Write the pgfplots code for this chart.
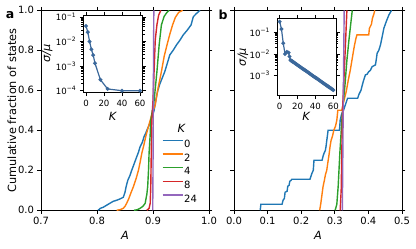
\documentclass[border=0pt]{standalone}
\usepackage{pgfplots}
\pgfplotsset{compat=1.18}
\usepackage{fontspec}
\setmainfont{DejaVu Sans}
\newcommand\mainfs{\fontsize{10}{12}\selectfont}
\newcommand\labfs{\fontsize{11.3}{13}\selectfont}
\newcommand\insfs{\fontsize{8.6}{10}\selectfont}
\definecolor{c0}{HTML}{1F77B4}
\definecolor{c1}{HTML}{FF7F0E}
\definecolor{c2}{HTML}{2CA02C}
\definecolor{c3}{HTML}{D62728}
\definecolor{c4}{HTML}{9467BD}
\definecolor{insb}{RGB}{59,104,155}
\pgfplotsset{
  mainax/.style={
    scale only axis, width=168pt, height=200pt,
    ymin=0, ymax=1,
    axis line style={line width=0.8pt},
    tick align=outside, major tick length=3.5pt,
    every tick/.style={black, line width=0.8pt},
    ytick={0,0.2,0.4,0.6,0.8,1.0},
    /pgf/number format/assume math mode=true,
    xticklabel style={font=\mainfs, /pgf/number format/.cd, fixed, fixed zerofill, precision=1},
    yticklabel style={font=\mainfs, /pgf/number format/.cd, fixed, fixed zerofill, precision=1},
    xlabel style={at={(rel axis cs:0.5,0)}, anchor=center, yshift=-25pt, font=\labfs},
    ylabel style={anchor=center, font=\labfs},
    clip=true,
  },
  insax/.style={
    scale only axis, xmin=-3, xmax=63,
    axis background/.style={fill=white},
    axis line style={line width=0.8pt},
    tick align=outside, major tick length=3.5pt, minor tick length=2pt,
    every tick/.style={black, line width=0.8pt},
    every minor tick/.style={black, line width=0.6pt},
    xtick={0,20,40,60},
    /pgf/number format/assume math mode=true,
    xticklabel style={font=\insfs},
    yticklabel style={font=\insfs},
    xlabel style={at={(rel axis cs:0.5,0)}, anchor=center, font=\labfs},
    ylabel style={anchor=center, font=\labfs},
  },
}
\begin{document}
\begin{tikzpicture}
\path[use as bounding box] (0pt,0pt) rectangle (416pt,249pt);

% ---------------- panel a ----------------
\begin{axis}[mainax, at={(41pt,38.7pt)}, anchor=south west,
  xmin=0.7, xmax=1.0, xtick={0.7,0.8,0.9,1.0},
  xlabel={\textit{A}}, ylabel={Cumulative fraction of states},
  ylabel style={at={(rel axis cs:-0.1726,0.5)}},
  legend style={at={(rel axis cs:0.718,0.355)}, anchor=north west, draw=none, fill=none,
    font=\mainfs, inner sep=0pt, row sep=4.3pt,
    nodes={inner sep=1pt, text height=7.3pt, text depth=0pt}},
  legend cell align=left,
  legend image code/.code={\draw[#1] (0pt,3.6pt) -- (20pt,3.6pt);},
]
\addplot[c0, line width=1.4pt] coordinates {
(0.802,0) (0.806,0.010) (0.811,0.015) (0.817,0.025) (0.823,0.035) (0.829,0.045)
(0.835,0.050) (0.842,0.058) (0.847,0.065) (0.850,0.090) (0.852,0.118) (0.855,0.150)
(0.859,0.175) (0.862,0.200) (0.866,0.230) (0.871,0.268) (0.874,0.290) (0.877,0.318)
(0.881,0.340) (0.884,0.368) (0.887,0.385) (0.889,0.400) (0.893,0.425) (0.896,0.450)
(0.900,0.480) (0.902,0.500) (0.905,0.550) (0.908,0.593) (0.912,0.630) (0.917,0.665)
(0.921,0.693) (0.925,0.730) (0.930,0.777) (0.936,0.800) (0.942,0.827) (0.948,0.850)
(0.954,0.877) (0.961,0.900) (0.968,0.927) (0.972,0.968) (0.978,0.985) (0.984,1.000)};
\addlegendentry{0}
\addplot[c1, line width=1.4pt] coordinates {
(0.835,0) (0.841,0.003) (0.847,0.010) (0.850,0.020) (0.853,0.035) (0.857,0.060)
(0.861,0.090) (0.865,0.118) (0.870,0.160) (0.874,0.200) (0.877,0.240) (0.880,0.285)
(0.884,0.330) (0.887,0.368) (0.891,0.410) (0.895,0.450) (0.899,0.490) (0.904,0.527)
(0.909,0.610) (0.915,0.693) (0.920,0.770) (0.925,0.827) (0.930,0.880) (0.935,0.927)
(0.940,0.965) (0.946,0.990) (0.953,1.000)};
\addlegendentry{2}
\addplot[c2, line width=1.4pt] coordinates {
(0.866,0) (0.872,0.003) (0.877,0.010) (0.882,0.020) (0.886,0.035) (0.889,0.080)
(0.8905,0.118) (0.892,0.200) (0.893,0.285) (0.895,0.380) (0.896,0.450) (0.899,0.500)
(0.902,0.550) (0.907,0.693) (0.911,0.827) (0.915,0.927) (0.920,0.970) (0.925,0.990)
(0.929,1.000)};
\addlegendentry{4}
\addplot[c3, line width=1.4pt] coordinates {
(0.889,0) (0.893,0.010) (0.895,0.035) (0.896,0.118) (0.897,0.300) (0.898,0.450)
(0.900,0.550) (0.902,0.700) (0.904,0.850) (0.907,0.927) (0.910,0.975) (0.914,1.000)};
\addlegendentry{8}
\addplot[c4, line width=1.4pt] coordinates {
(0.8995,0) (0.9000,0.200) (0.9005,0.500) (0.9010,0.800) (0.9015,1.000)};
\addlegendentry{24}
\node[font=\labfs] at (rel axis cs:0.8375,0.41) {\textit{K}};
\end{axis}

\begin{axis}[insax, ymode=log, at={(83.3pt,156.3pt)}, anchor=south west, width=59.4pt, height=77.7pt,
  ymin=8.3e-5, ymax=0.12,
  ytick={1e-4,1e-3,1e-2,1e-1},
  yticklabels={10\textsuperscript{−4},10\textsuperscript{−3},10\textsuperscript{−2},10\textsuperscript{−1}},
  xlabel={\textit{K}}, ylabel={\textit{σ/μ}},
  xlabel style={yshift=-24pt}, ylabel style={at={(rel axis cs:-0.606,0.5)}},
]
\addplot[insb, line width=1.2pt, mark=*, mark size=1.3pt] coordinates {
(0,0.043) (2,0.024) (4,0.010) (6,0.0048) (8,0.0028) (10,0.0013)
(16,0.00028) (24,0.000118) (40,0.000100) (60,0.000100)};
\end{axis}

% ---------------- panel b ----------------
\begin{axis}[mainax, at={(234pt,38.7pt)}, anchor=south west,
  xmin=0, xmax=0.5, xtick={0,0.1,0.2,0.3,0.4,0.5},
  xlabel={\textit{A}}, yticklabel=\empty,
]
\addplot[c0, line width=1.4pt] coordinates {
(0.078,0) (0.080,0.030) (0.143,0.030) (0.146,0.050) (0.150,0.060) (0.152,0.090)
(0.158,0.095) (0.160,0.120) (0.164,0.125) (0.166,0.145) (0.170,0.150) (0.172,0.155)
(0.226,0.155) (0.230,0.175) (0.232,0.185) (0.236,0.200) (0.238,0.250) (0.262,0.250)
(0.265,0.270) (0.268,0.285) (0.272,0.300) (0.274,0.320) (0.277,0.360) (0.280,0.400)
(0.314,0.400) (0.316,0.450) (0.320,0.480) (0.326,0.500) (0.332,0.530) (0.338,0.560)
(0.368,0.560) (0.372,0.580) (0.378,0.600) (0.384,0.640) (0.391,0.677) (0.396,0.680)
(0.401,0.693) (0.406,0.700) (0.411,0.718) (0.421,0.727) (0.424,0.760) (0.426,0.785)
(0.431,0.800) (0.436,0.827) (0.441,0.868) (0.446,0.910) (0.453,0.943) (0.461,0.977)
(0.469,1.000)};
\addplot[c1, line width=1.4pt] coordinates {
(0.255,0) (0.258,0.030) (0.262,0.080) (0.265,0.118) (0.269,0.150) (0.272,0.177)
(0.276,0.200) (0.279,0.235) (0.283,0.280) (0.286,0.320) (0.289,0.350) (0.293,0.370)
(0.297,0.400) (0.302,0.420) (0.306,0.450) (0.309,0.500) (0.321,0.500) (0.326,0.540)
(0.334,0.593) (0.340,0.650) (0.346,0.700) (0.352,0.760) (0.358,0.820) (0.363,0.860)
(0.366,0.877) (0.401,0.877) (0.403,0.910) (0.409,0.930) (0.412,0.960) (0.416,0.980)
(0.419,1.000)};
\addplot[c2, line width=1.4pt] coordinates {
(0.301,0) (0.306,0.030) (0.310,0.118) (0.315,0.285) (0.321,0.450) (0.324,0.520)
(0.330,0.620) (0.336,0.750) (0.342,0.850) (0.348,0.940) (0.352,1.000)};
\addplot[c3, line width=1.4pt] coordinates {
(0.316,0) (0.319,0.100) (0.321,0.300) (0.323,0.500) (0.327,0.650) (0.331,0.800)
(0.334,0.920) (0.336,1.000)};
\addplot[c4, line width=1.4pt] coordinates {
(0.3225,0) (0.3240,0.300) (0.3255,0.600) (0.3270,0.850) (0.3280,1.000)};
\end{axis}

\begin{axis}[insax, ymode=log, at={(277pt,153.3pt)}, anchor=south west, width=59pt, height=77.4pt,
  ymin=1.2e-4, ymax=0.44,
  ytick={1e-3,1e-2,1e-1},
  yticklabels={10\textsuperscript{−3},10\textsuperscript{−2},10\textsuperscript{−1}},
  xlabel={\textit{K}}, ylabel={\textit{σ/μ}},
  xlabel style={yshift=-21pt}, ylabel style={at={(rel axis cs:-0.576,0.5)}},
]
\addplot[insb, line width=1.2pt, mark=*, mark size=1.3pt] coordinates {
(0,0.31) (2,0.14) (4,0.031) (6,0.0100) (8,0.0125) (10,0.0115) (11,0.0076)
(12,0.00525) (13,0.00491) (14,0.00460) (15,0.00430) (16,0.00403) (17,0.00377)
(18,0.00353) (19,0.00330) (20,0.00309) (21,0.00289) (22,0.00270) (23,0.00253)
(24,0.00237) (25,0.00222) (26,0.00207) (27,0.00194) (28,0.00182) (29,0.00170)
(30,0.00159) (31,0.00149) (32,0.00139) (33,0.00130) (34,0.00122) (35,0.00114)
(36,0.00107) (37,0.00100) (38,0.000936) (39,0.000876) (40,0.000820) (41,0.000767)
(42,0.000718) (43,0.000672) (44,0.000629) (45,0.000589) (46,0.000551) (47,0.000515)
(48,0.000482) (49,0.000451) (50,0.000423) (51,0.000395) (52,0.000370) (53,0.000346)
(54,0.000324) (55,0.000303) (56,0.000284) (57,0.000265) (58,0.000248) (59,0.000232)
(60,0.000218)};
\end{axis}

\node[font=\fontsize{12.5}{14}\selectfont\bfseries] at (10pt,234pt) {a};
\node[font=\fontsize{12.5}{14}\selectfont\bfseries] at (223pt,234pt) {b};
\end{tikzpicture}
\end{document}
